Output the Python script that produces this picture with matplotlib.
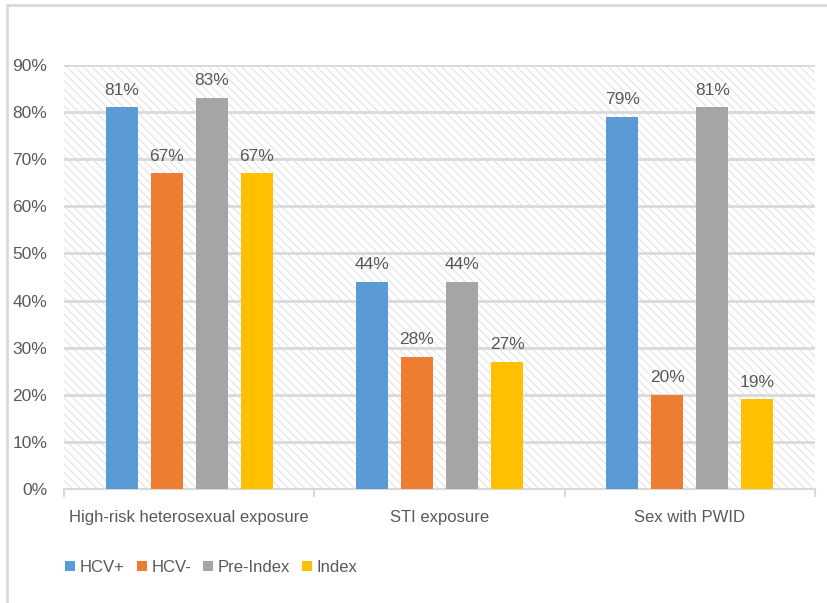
import matplotlib
matplotlib.use('Agg')
import matplotlib.pyplot as plt
from matplotlib.patches import Rectangle
import numpy as np

categories = ['High-risk heterosexual exposure', 'STI exposure', 'Sex with PWID']
series = ['HCV+', 'HCV-', 'Pre-Index', 'Index']
hcv_pos = [81, 44, 79]
hcv_neg = [67, 28, 20]
pre_index = [83, 44, 81]
index_vals = [67, 27, 19]
yticks = [0, 10, 20, 30, 40, 50, 60, 70, 80, 90]

colors = ['#5B9BD5', '#ED7D31', '#A5A5A5', '#FFC000']
grey_txt = '#595959'
light = '#D9D9D9'

plt.rcParams['font.family'] = 'Liberation Sans'
plt.rcParams['hatch.color'] = '#E0E0E0'
plt.rcParams['hatch.linewidth'] = 0.7

fig = plt.figure(figsize=(8.28, 6.03), dpi=100)
ax = fig.add_axes([64 / 828, 1 - 489 / 603, 751 / 828, 424 / 603])

# hatched plot area
ax.patch.set_facecolor('white')
ax.patch.set_hatch('\\\\\\\\')
ax.patch.set_edgecolor('#E0E0E0')
ax.patch.set_linewidth(0)

x = np.arange(len(categories))
width = 0.128
offsets = [-0.27, -0.09, 0.09, 0.27]
data = [hcv_pos, hcv_neg, pre_index, index_vals]
for vals, off, c, name in zip(data, offsets, colors, series):
    bars = ax.bar(x + off, vals, width, color=c, label=name, zorder=3)
    for b, v in zip(bars, vals):
        ax.annotate(f'{v}%', (b.get_x() + b.get_width() / 2, v),
                    xytext=(0, 7), textcoords='offset points',
                    ha='center', va='bottom', fontsize=12.5, color=grey_txt)

ax.set_xlim(-0.5, 2.5)
ax.set_ylim(0, 90)
ax.set_yticks(yticks)
ax.set_yticklabels([f'{t}%' for t in yticks], fontsize=12.5, color=grey_txt)
ax.yaxis.grid(True, color=light, linewidth=2, zorder=1)
ax.set_axisbelow(True)
ax.tick_params(axis='y', length=0, pad=12)

ax.set_xticks([-0.5, 0.5, 1.5, 2.5])
ax.set_xticklabels([])
ax.tick_params(axis='x', which='major', length=6, color=light, width=1.5)
ax.set_xticks(x, minor=True)
ax.set_xticklabels(categories, minor=True, fontsize=12, color=grey_txt)
ax.tick_params(axis='x', which='minor', length=0, pad=15)

for s in ['top', 'right', 'left']:
    ax.spines[s].set_visible(False)
ax.spines['bottom'].set_color(light)
ax.spines['bottom'].set_linewidth(1.5)

fig.legend(loc='lower left', bbox_to_anchor=(50 / 828, 1 - 590 / 603), ncol=4,
           frameon=False, fontsize=12, handlelength=0.6, handleheight=0.6,
           handletextpad=0.3, columnspacing=0.7, labelcolor=grey_txt)

# outer frame
fig.patches.append(Rectangle((7 / 828, -0.1), 1.0, 1 - 5 / 603 + 0.1,
                             transform=fig.transFigure, fill=False,
                             edgecolor=light, linewidth=2))

fig.savefig('out.png', dpi=100)
